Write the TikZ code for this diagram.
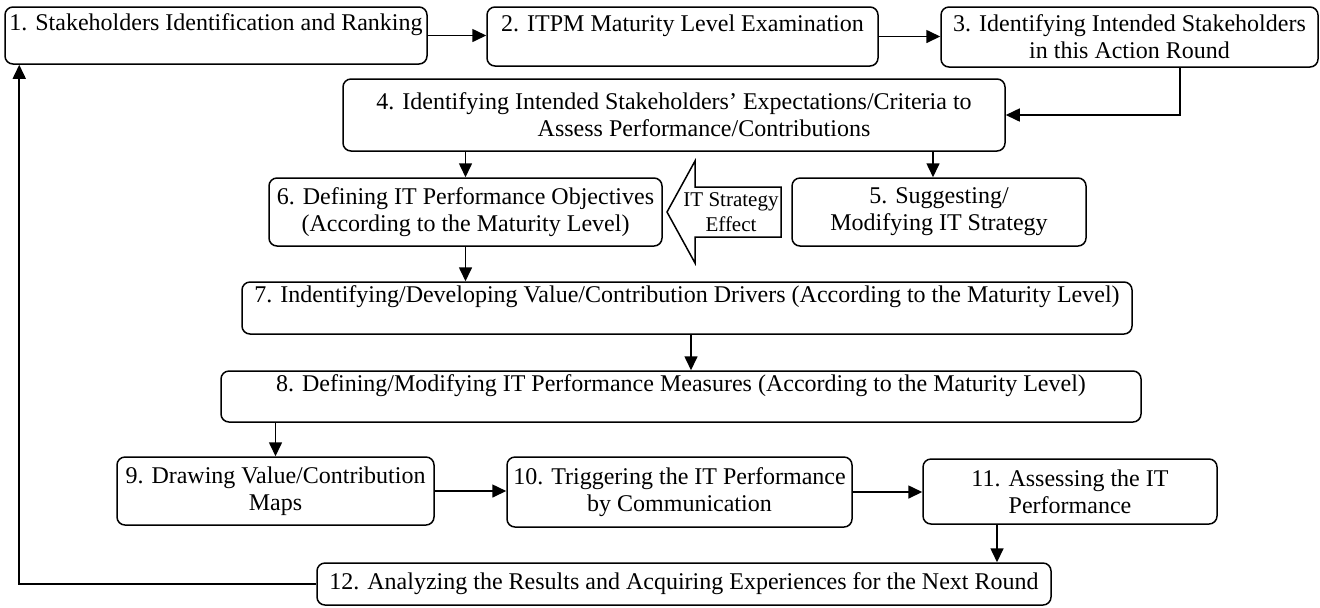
\documentclass[tikz,border=0pt]{standalone}
\usepackage{fontspec}
\setmainfont{Liberation Serif}
\usetikzlibrary{arrows.meta,calc}
\begin{document}
\begin{tikzpicture}[x=0.5pt,y=-0.5pt,
  box/.style={draw, rounded corners=4pt, line width=0.75pt, align=center,
              inner sep=1pt, font=\fontsize{12}{13.5}\selectfont},
  arr/.style={-{Triangle[length=7pt,width=6.5pt]}, line width=0.8pt},
  effect/.style={font=\fontsize{10.5}{12.5}\selectfont, align=center, inner sep=0pt},
  blockarrow/.style={draw, line width=0.75pt, fill=white}
]
\useasboundingbox (0,0) rectangle (1320,607);

% process steps (positions in pixel units)
\node[box, minimum width=211pt, minimum height=28.5pt] (n1) at (216,35.5)
  {1. Stakeholders Identification and Ranking\\\mbox{}};
\node[box, minimum width=195.5pt, minimum height=29.5pt] (n2) at (682.5,36.5)
  {2. ITPM Maturity Level Examination\\\mbox{}};
\node[box, minimum width=188.5pt, minimum height=30pt] (n3) at (1129.5,37)
  {3. Identifying Intended Stakeholders\\in this Action Round};
\node[box, minimum width=331pt, minimum height=36pt] (n4) at (674,115)
  {4. Identifying Intended Stakeholders' Expectations/Criteria to\\\hspace*{30pt}Assess Performance/Contributions};
\node[box, minimum width=147pt, minimum height=34pt] (n5) at (939,212)
  {5. Suggesting/\\Modifying IT Strategy};
\node[box, minimum width=196.5pt, minimum height=34pt] (n6) at (465.5,212)
  {6. Defining IT Performance Objectives\\(According to the Maturity Level)};
\node[box, minimum width=445pt, minimum height=26pt] (n7) at (687,308)
  {7. Indentifying/Developing Value/Contribution Drivers (According to the Maturity Level)\\\mbox{}};
\node[box, minimum width=460pt, minimum height=25.5pt] (n8) at (681,396.5)
  {8. Defining/Modifying IT Performance Measures (According to the Maturity Level)\\\mbox{}};
\node[box, minimum width=158.5pt, minimum height=34pt] (n9) at (275.5,491)
  {9. Drawing Value/Contribution\\Maps};
\node[box, minimum width=172.5pt, minimum height=35pt] (n10) at (679.5,492)
  {10. Triggering the IT Performance\\by Communication};
\node[box, minimum width=147pt, minimum height=32.5pt] (n11) at (1070,491.5)
  {11. Assessing the IT\\Performance};
\node[box, minimum width=367pt, minimum height=21pt] (n12) at (684,584)
  {12. Analyzing the Results and Acquiring Experiences for the Next Round};

% block arrow from step 5 towards step 6
\draw[blockarrow] (781,187) -- (695,187) -- (695,161) -- (667,212)
  -- (695,263) -- (695,237) -- (781,237) -- cycle;
\node[effect] (eff) at (731,212) {IT Strategy\\Effect};

% connectors
\draw[arr] (n1.east) -- (n1.east -| n2.west);
\draw[arr] (n2.east) -- (n2.east -| n3.west);
\draw[arr] ([xshift=25.25pt]n3.south) |- (n4.east);
\draw[arr] (n4.south -| n6.north) -- (n6.north);
\draw[arr] ([xshift=-3pt]n5.north |- n4.south) -- ([xshift=-3pt]n5.north);
\draw[arr] (n6.south) -- (n6.south |- n7.north);
\draw[arr] ([xshift=2pt]n7.south) -- ([xshift=2pt]n7.south |- n8.north);
\draw[arr] (n8.south -| n9.north) -- (n9.north);
\draw[arr] (n9.east) -- (n9.east -| n10.west);
\draw[arr] (n10.east) -- (n10.east -| n11.west);
\draw[arr] ([xshift=-36.5pt]n11.south) -- ([xshift=-36.5pt]n11.south |- n12.north);
\draw[arr] (n12.west) -| ([xshift=7.5pt]n1.south west);
\end{tikzpicture}
\end{document}
